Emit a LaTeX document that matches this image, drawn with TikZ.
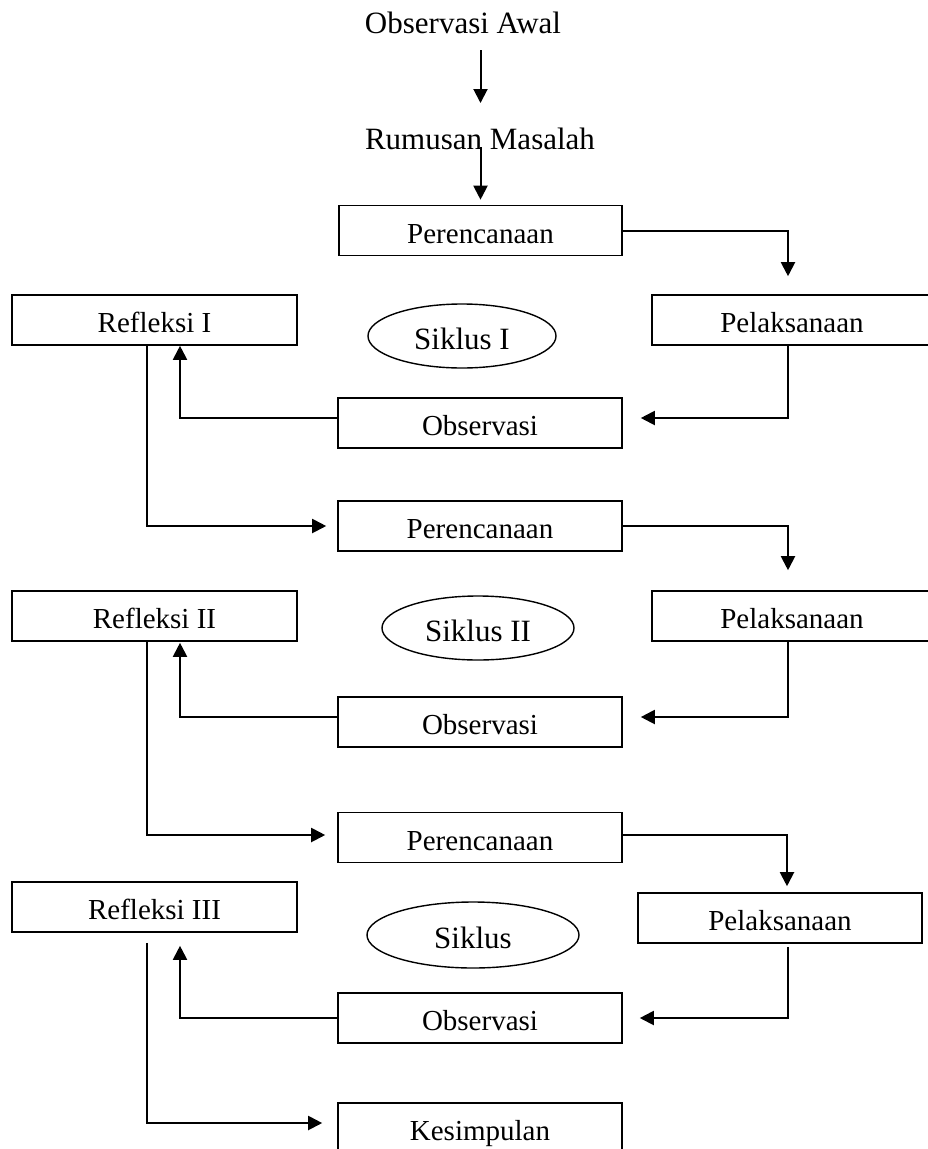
\documentclass[tikz,border=0pt]{standalone}
\usepackage{fontspec}
\setmainfont{Liberation Serif}
\usetikzlibrary{arrows.meta, shapes.geometric}

\tikzset{
    >={Triangle[length=14pt, width=14pt]},
    proses/.style={draw, line width=1.6pt, minimum height=50pt, inner sep=0pt,
        text height=25pt, text depth=0pt, font=\fontsize{29}{34}\selectfont},
    siklus/.style={draw, ellipse, line width=1.4pt, inner sep=0pt,
        text height=26pt, text depth=0pt, font=\fontsize{31}{36}\selectfont},
    judul/.style={anchor=base, inner sep=0pt, font=\fontsize{31}{36}\selectfont},
    flow/.style={->, line width=2pt}
}

\begin{document}
\begin{tikzpicture}[x=1pt, y=-1pt]
    \useasboundingbox (0,0) rectangle (927,1149);

    \node[judul] (awal) at (463,33) {Observasi Awal};
    \node[judul] (rumus) at (480,149) {Rumusan Masalah};

    % siklus I
    \node[proses, minimum width=283pt] (ren1) at (480.5,230.5) {Perencanaan};
    \node[proses, minimum width=285pt] (ref1) at (154.5,320) {Refleksi I};
    \node[proses, minimum width=280pt] (pel1) at (792,320) {Pelaksanaan};
    \node[siklus, minimum width=188pt, minimum height=64pt] (sik1) at (462,336) {Siklus I};
    \node[proses, minimum width=284pt] (obs1) at (480,423) {Observasi};

    % siklus II
    \node[proses, minimum width=284pt] (ren2) at (480,526) {Perencanaan};
    \node[proses, minimum width=285pt] (ref2) at (154.5,616) {Refleksi II};
    \node[proses, minimum width=280pt] (pel2) at (792,616) {Pelaksanaan};
    \node[siklus, minimum width=192pt, minimum height=64pt] (sik2) at (478,628) {Siklus II};
    \node[proses, minimum width=284pt] (obs2) at (480,722) {Observasi};

    % siklus III
    \node[proses, minimum width=284pt] (ren3) at (480,837.5) {Perencanaan};
    \node[proses, minimum width=285pt] (ref3) at (154.5,907) {Refleksi III};
    \node[proses, minimum width=284pt] (pel3) at (780,918) {Pelaksanaan};
    \node[siklus, minimum width=212pt, minimum height=66pt] (sik3) at (473,935) {Siklus};
    \node[proses, minimum width=284pt] (obs3) at (480,1018) {Observasi};

    \node[proses, minimum width=284pt] (kes) at (480,1128) {Kesimpulan};

    \draw[flow] ([yshift=-17pt]awal.base -| ren1.north) -- ([yshift=46pt]rumus.base -| ren1.north);
    \draw[flow] ([yshift=2pt]rumus.base -| ren1.north) -- ([yshift=5pt]ren1.north);

    \draw[flow] (ren1.east) -| ([xshift=-4pt, yshift=18pt]pel1.north);
    \draw[flow] ([xshift=-4pt]pel1.south) |- ([xshift=18pt, yshift=5pt]obs1.east);
    \draw[flow] ([yshift=5pt]obs1.west) -| ([xshift=25.5pt]ref1.south);
    \draw[flow] ([xshift=-8pt]ref1.south) |- ([xshift=-11pt]ren2.west);

    \draw[flow] (ren2.east) -| ([xshift=-4pt, yshift=20pt]pel2.north);
    \draw[flow] ([xshift=-4pt]pel2.south) |- ([xshift=18pt, yshift=5pt]obs2.east);
    \draw[flow] ([yshift=5pt]obs2.west) -| ([xshift=25.5pt, yshift=-1pt]ref2.south);
    \draw[flow] ([xshift=-8pt]ref2.south) |- ([xshift=-12pt, yshift=2.5pt]ren3.west);

    \draw[flow] ([yshift=2.5pt]ren3.east) -| ([xshift=7pt, yshift=6pt]pel3.north);
    \draw[flow] ([xshift=8pt, yshift=-3pt]pel3.south) |- ([xshift=17pt]obs3.east);
    \draw[flow] (obs3.west) -| ([xshift=25.5pt, yshift=-13pt]ref3.south);
    \draw[flow] ([xshift=-8pt, yshift=-10pt]ref3.south) |- ([xshift=-15pt, yshift=5pt]kes.west);
\end{tikzpicture}
\end{document}
